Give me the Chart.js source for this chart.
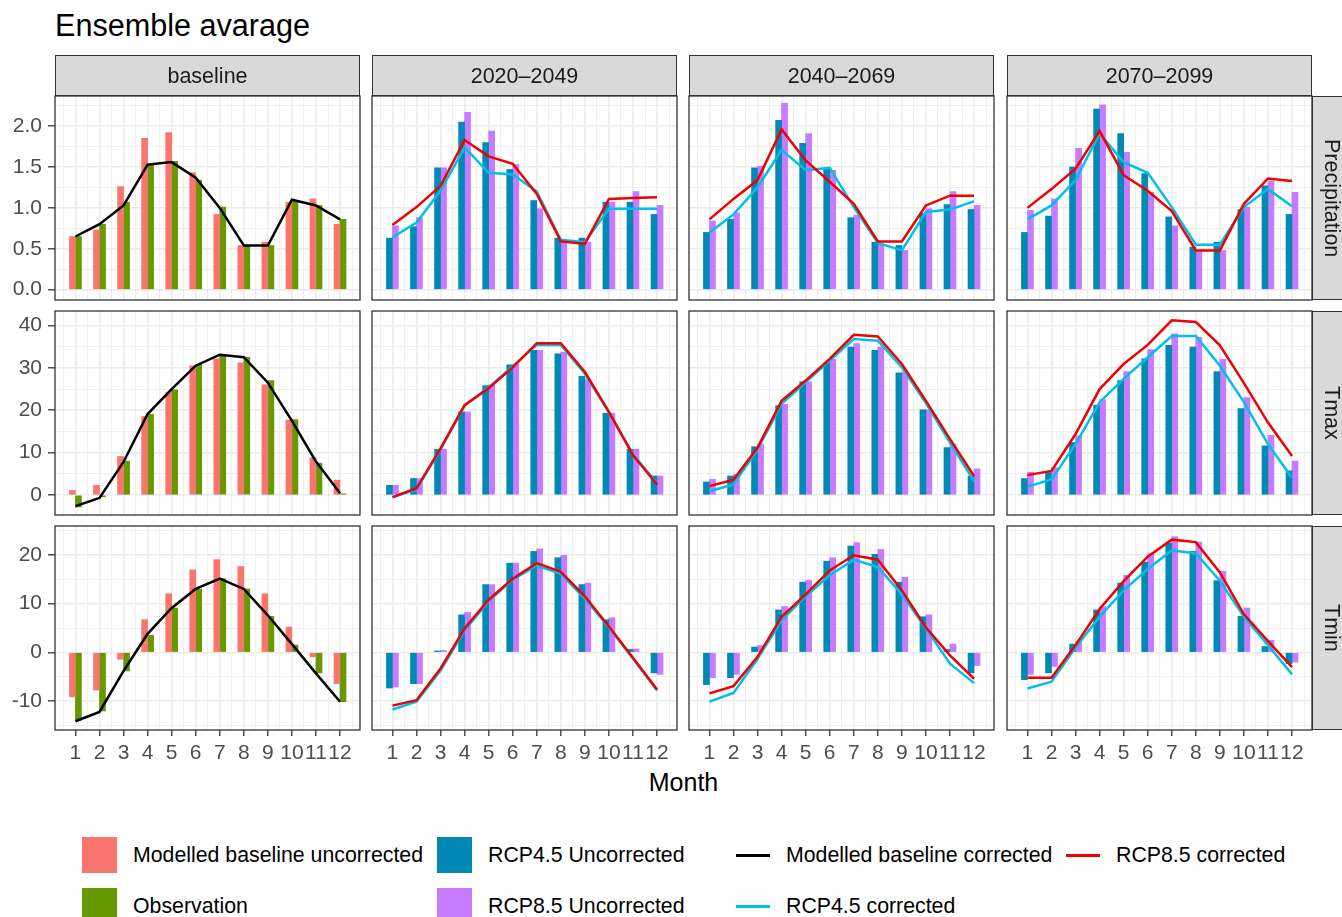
<!DOCTYPE html>
<html>
<head>
<meta charset="utf-8">
<script src="https://cdn.jsdelivr.net/npm/chart.js@4/dist/chart.umd.min.js"></script>
<style>
  html, body { margin: 0; padding: 0; background: #fff; }
  body { width: 1342px; height: 917px; overflow: hidden; position: relative;
         font-family: "Liberation Sans", Arial, sans-serif; }
  canvas { position: absolute; }
  .txt { position: absolute; white-space: nowrap; }
  .strip { position: absolute; background: #d9d9d9; border: 1.3px solid #333; box-sizing: border-box;
           color: #1a1a1a; font-size: 21.5px; display: flex; align-items: center; justify-content: center; }
  .strip span { position: relative; top: 1px; }
  .vstrip span { writing-mode: vertical-rl; top: 0; left: -1px; }
  .key { position: absolute; }
</style>
</head>
<body>
<div class="txt" style="left:55px;top:8px;font-size:30.6px;line-height:34px;color:#000;">Ensemble avarage</div>
<div class="txt" style="left:0;width:1367px;text-align:center;top:768px;font-size:25px;line-height:28px;color:#000;">Month</div>
<script>
// ---- categories ----
const months = [1, 2, 3, 4, 5, 6, 7, 8, 9, 10, 11, 12];
const periods = ['baseline', '2020–2049', '2040–2069', '2070–2099'];
const variables = ['Precipitation', 'Tmax', 'Tmin'];

// ---- tick labels ----
const precipTicks = [0, 0.5, 1, 1.5, 2];
const tmaxTicks = [0, 10, 20, 30, 40];
const tminTicks = [-10, 0, 10, 20];

// ---- Precipitation ----
const precipBaseUncorr = [0.65, 0.73, 1.26, 1.85, 1.92, 1.43, 0.92, 0.54, 0.58, 1.07, 1.11, 0.80];
const precipObs        = [0.65, 0.80, 1.07, 1.53, 1.57, 1.34, 1.01, 0.54, 0.54, 1.09, 1.03, 0.86];
const precipBaseCorr   = [0.65, 0.80, 1.03, 1.53, 1.56, 1.37, 1.00, 0.54, 0.54, 1.10, 1.03, 0.86];

const precip2020Rcp45Unc = [0.63, 0.77, 1.49, 2.05, 1.80, 1.47, 1.09, 0.63, 0.63, 1.07, 1.07, 0.92];
const precip2020Rcp85Unc = [0.78, 0.88, 1.49, 2.17, 1.94, 1.53, 0.99, 0.58, 0.58, 1.07, 1.20, 1.03];
const precip2020Rcp45Cor = [0.64, 0.82, 1.21, 1.74, 1.43, 1.41, 1.20, 0.61, 0.58, 0.99, 0.99, 0.99];
const precip2020Rcp85Cor = [0.79, 1.01, 1.27, 1.83, 1.63, 1.54, 1.17, 0.59, 0.56, 1.11, 1.12, 1.13];

const precip2040Rcp45Unc = [0.70, 0.86, 1.49, 2.07, 1.79, 1.49, 0.88, 0.58, 0.54, 0.93, 1.04, 0.98];
const precip2040Rcp85Unc = [0.84, 0.94, 1.51, 2.28, 1.91, 1.46, 0.91, 0.56, 0.48, 0.99, 1.20, 1.03];
const precip2040Rcp45Cor = [0.70, 0.92, 1.25, 1.71, 1.46, 1.49, 1.01, 0.57, 0.48, 0.95, 0.98, 1.08];
const precip2040Rcp85Cor = [0.86, 1.11, 1.34, 1.96, 1.58, 1.32, 1.05, 0.59, 0.59, 1.03, 1.15, 1.15];

const precip2070Rcp45Unc = [0.70, 0.90, 1.50, 2.21, 1.91, 1.42, 0.89, 0.52, 0.58, 0.98, 1.27, 0.92];
const precip2070Rcp85Unc = [0.97, 1.11, 1.73, 2.26, 1.68, 1.19, 0.78, 0.48, 0.48, 1.01, 1.33, 1.19];
const precip2070Rcp45Cor = [0.86, 1.03, 1.34, 1.91, 1.56, 1.43, 1.01, 0.55, 0.55, 1.01, 1.23, 1.02];
const precip2070Rcp85Cor = [1.00, 1.23, 1.48, 1.94, 1.40, 1.21, 0.96, 0.48, 0.48, 1.05, 1.36, 1.33];

// ---- Tmax ----
const tmaxBaseUncorr = [1.1, 2.3, 9.1, 18.5, 24.2, 30.5, 32.1, 31.2, 26.0, 17.7, 8.8, 3.5];
const tmaxObs        = [-2.8, -0.4, 8.0, 19.0, 24.8, 30.8, 33.1, 32.5, 27.0, 17.8, 7.5, 0.3];
const tmaxBaseCorr   = [-2.6, -0.7, 7.8, 19.1, 25.0, 30.5, 33.1, 32.5, 26.5, 17.5, 7.9, 0.4];

const tmax2020Rcp45Unc = [2.3, 3.9, 10.8, 19.6, 25.8, 30.7, 34.1, 33.3, 28.0, 19.3, 10.8, 4.5];
const tmax2020Rcp85Unc = [2.3, 3.9, 10.8, 19.6, 26.0, 30.8, 34.1, 33.7, 27.2, 19.3, 10.8, 4.5];
const tmax2020Rcp45Cor = [-0.5, 1.3, 10.8, 21.1, 25.4, 30.4, 35.4, 35.4, 28.6, 19.5, 9.6, 2.8];
const tmax2020Rcp85Cor = [-0.5, 1.6, 11.0, 21.2, 25.2, 30.1, 35.8, 35.8, 29.0, 19.6, 9.4, 2.5];

const tmax2040Rcp45Unc = [3.1, 4.5, 11.4, 21.1, 26.7, 31.2, 34.9, 34.1, 28.8, 20.1, 11.2, 4.5];
const tmax2040Rcp85Unc = [3.7, 4.9, 12.0, 21.4, 26.7, 32.0, 35.7, 34.9, 29.0, 20.1, 12.0, 6.2];
const tmax2040Rcp45Cor = [0.9, 2.5, 10.8, 21.5, 26.6, 31.7, 36.8, 36.4, 30.1, 21.7, 12.4, 3.3];
const tmax2040Rcp85Cor = [2.1, 3.6, 11.2, 22.2, 27.0, 32.1, 37.8, 37.4, 30.9, 22.2, 13.2, 4.5];

const tmax2070Rcp45Unc = [3.9, 5.3, 12.4, 21.2, 27.0, 32.1, 35.3, 34.9, 29.1, 20.4, 11.6, 5.7];
const tmax2070Rcp85Unc = [5.4, 6.5, 14.0, 22.5, 29.1, 34.3, 38.0, 37.2, 32.0, 23.0, 14.1, 8.0];
const tmax2070Rcp45Cor = [2.0, 3.7, 12.0, 21.9, 27.4, 32.5, 37.5, 37.5, 30.5, 21.9, 12.0, 4.1];
const tmax2070Rcp85Cor = [4.7, 5.7, 14.4, 25.0, 30.9, 35.4, 41.2, 40.8, 35.3, 26.4, 17.1, 9.2];

// ---- Tmin ----
const tminBaseUncorr = [-9.1, -7.7, -1.4, 6.7, 12.0, 16.9, 19.0, 17.6, 12.0, 5.2, -0.9, -6.4];
const tminObs        = [-13.9, -12.0, -3.8, 3.5, 9.1, 13.0, 15.1, 13.0, 7.4, 1.5, -4.2, -10.1];
const tminBaseCorr   = [-14.1, -12.2, -3.8, 3.8, 9.1, 13.0, 15.1, 13.0, 7.6, 1.7, -4.3, -10.1];

const tmin2020Rcp45Unc = [-7.3, -6.4, 0.3, 7.7, 13.9, 18.3, 20.7, 19.4, 13.9, 6.7, 0.6, -4.2];
const tmin2020Rcp85Unc = [-7.1, -6.4, 0.4, 8.2, 13.9, 18.3, 21.2, 19.9, 14.2, 7.1, 0.7, -4.5];
const tmin2020Rcp45Cor = [-11.7, -10.1, -3.7, 4.5, 10.5, 14.9, 17.8, 16.1, 11.0, 5.1, -1.3, -7.8];
const tmin2020Rcp85Cor = [-10.9, -9.8, -3.3, 4.9, 10.8, 15.1, 18.3, 16.5, 11.5, 5.3, -1.1, -7.6];

const tmin2040Rcp45Unc = [-6.6, -5.2, 1.1, 8.7, 14.4, 18.7, 21.8, 20.1, 14.4, 7.3, 0.6, -4.2];
const tmin2040Rcp85Unc = [-5.2, -4.5, 1.4, 9.4, 14.8, 19.4, 22.5, 21.1, 15.4, 7.7, 1.7, -2.7];
const tmin2040Rcp45Cor = [-10.1, -8.3, -1.3, 6.6, 11.5, 15.8, 19.0, 17.5, 11.9, 4.9, -2.3, -6.3];
const tmin2040Rcp85Cor = [-8.4, -6.9, -0.9, 7.3, 11.9, 16.8, 19.9, 19.0, 12.7, 5.1, -0.6, -5.4];

const tmin2070Rcp45Unc = [-5.6, -4.2, 1.7, 8.7, 14.2, 18.5, 22.4, 20.7, 14.7, 7.4, 1.2, -2.3];
const tmin2070Rcp85Unc = [-4.5, -2.9, 2.3, 9.4, 15.8, 20.2, 23.7, 22.6, 16.6, 9.1, 2.5, -2.0];
const tmin2070Rcp45Cor = [-7.4, -6.0, 1.0, 7.3, 12.7, 17.1, 20.9, 20.3, 14.7, 7.3, 1.5, -4.5];
const tmin2070Rcp85Cor = [-5.2, -5.2, 1.5, 8.9, 14.6, 19.6, 23.1, 22.6, 16.4, 7.8, 2.3, -3.0];

// ---- colours ----
const COL = {
  baseUncorr: '#F8766D', obs: '#669900', baseCorr: '#000000',
  rcp45Unc: '#0089B4', rcp85Unc: '#C77CFF', rcp45Cor: '#00BFE8', rcp85Cor: '#F00000'
};

// one row per variable, one column per period
const panels = [
  [
    { bars: [[precipBaseUncorr, COL.baseUncorr], [precipObs, COL.obs]], lines: [[precipBaseCorr, COL.baseCorr]] },
    { bars: [[precip2020Rcp45Unc, COL.rcp45Unc], [precip2020Rcp85Unc, COL.rcp85Unc]], lines: [[precip2020Rcp45Cor, COL.rcp45Cor], [precip2020Rcp85Cor, COL.rcp85Cor]] },
    { bars: [[precip2040Rcp45Unc, COL.rcp45Unc], [precip2040Rcp85Unc, COL.rcp85Unc]], lines: [[precip2040Rcp45Cor, COL.rcp45Cor], [precip2040Rcp85Cor, COL.rcp85Cor]] },
    { bars: [[precip2070Rcp45Unc, COL.rcp45Unc], [precip2070Rcp85Unc, COL.rcp85Unc]], lines: [[precip2070Rcp45Cor, COL.rcp45Cor], [precip2070Rcp85Cor, COL.rcp85Cor]] }
  ],
  [
    { bars: [[tmaxBaseUncorr, COL.baseUncorr], [tmaxObs, COL.obs]], lines: [[tmaxBaseCorr, COL.baseCorr]] },
    { bars: [[tmax2020Rcp45Unc, COL.rcp45Unc], [tmax2020Rcp85Unc, COL.rcp85Unc]], lines: [[tmax2020Rcp45Cor, COL.rcp45Cor], [tmax2020Rcp85Cor, COL.rcp85Cor]] },
    { bars: [[tmax2040Rcp45Unc, COL.rcp45Unc], [tmax2040Rcp85Unc, COL.rcp85Unc]], lines: [[tmax2040Rcp45Cor, COL.rcp45Cor], [tmax2040Rcp85Cor, COL.rcp85Cor]] },
    { bars: [[tmax2070Rcp45Unc, COL.rcp45Unc], [tmax2070Rcp85Unc, COL.rcp85Unc]], lines: [[tmax2070Rcp45Cor, COL.rcp45Cor], [tmax2070Rcp85Cor, COL.rcp85Cor]] }
  ],
  [
    { bars: [[tminBaseUncorr, COL.baseUncorr], [tminObs, COL.obs]], lines: [[tminBaseCorr, COL.baseCorr]] },
    { bars: [[tmin2020Rcp45Unc, COL.rcp45Unc], [tmin2020Rcp85Unc, COL.rcp85Unc]], lines: [[tmin2020Rcp45Cor, COL.rcp45Cor], [tmin2020Rcp85Cor, COL.rcp85Cor]] },
    { bars: [[tmin2040Rcp45Unc, COL.rcp45Unc], [tmin2040Rcp85Unc, COL.rcp85Unc]], lines: [[tmin2040Rcp45Cor, COL.rcp45Cor], [tmin2040Rcp85Cor, COL.rcp85Cor]] },
    { bars: [[tmin2070Rcp45Unc, COL.rcp45Unc], [tmin2070Rcp85Unc, COL.rcp85Unc]], lines: [[tmin2070Rcp45Cor, COL.rcp45Cor], [tmin2070Rcp85Cor, COL.rcp85Cor]] }
  ]
];

// free y scale per row: range, grid step, labelled ticks
const yScales = [
  { min: -0.127, max: 2.369, step: 0.25, labels: precipTicks, fmt: v => v.toFixed(1) },
  { min: -4.7, max: 43.4, step: 5, labels: tmaxTicks, fmt: v => String(v) },
  { min: -15.9, max: 25.9, step: 5, labels: tminTicks, fmt: v => String(v) }
];

// panel geometry
const panelX = [55, 372, 689, 1007];
const panelY = [96, 311, 526];
const PW = 305, PH = 204;
const STRIP = 41;
const TICK_FONT = { size: 21, family: '"Liberation Sans", Arial, sans-serif' };

const near = (a, b) => Math.abs(a - b) < 1e-6;
const GRID = '#EBEBEB', INK = '#333333', TICKTXT = '#4D4D4D';

const panelBorder = {
  id: 'panelBorder',
  afterDraw(chart) {
    const { ctx, chartArea: a } = chart;
    ctx.save();
    ctx.strokeStyle = INK;
    ctx.lineWidth = 1.3;
    ctx.strokeRect(a.left, a.top, a.right - a.left, a.bottom - a.top);
    ctx.restore();
  }
};

function gridValues(min, max, step) {
  const out = [];
  for (let v = Math.ceil(min / step) * step; v <= max + 1e-9; v += step) out.push(+v.toFixed(6));
  return out;
}

function buildPanel(r, c) {
  const spec = panels[r][c];
  const ys = yScales[r];
  const showY = c === 0, showX = r === 2;
  const left = showY ? 0 : panelX[c] - 2;
  const top = panelY[r] - 2;
  const width = panelX[c] + PW + 2 - left;
  const height = PH + 2 + (showX ? 46 : 2);

  const canvas = document.createElement('canvas');
  canvas.width = width; canvas.height = height;
  canvas.style.left = left + 'px'; canvas.style.top = top + 'px';
  canvas.style.width = width + 'px'; canvas.style.height = height + 'px';
  document.body.appendChild(canvas);

  const datasets = [];
  spec.bars.forEach(([vals, col]) => datasets.push({
    type: 'bar', data: months.map((m, i) => ({ x: m, y: vals[i] })),
    backgroundColor: col, borderWidth: 0, barThickness: 6, order: 5
  }));
  spec.lines.forEach(([vals, col], k) => datasets.push({
    type: 'line', data: months.map((m, i) => ({ x: m, y: vals[i] })),
    borderColor: col, borderWidth: 2.5, pointRadius: 0, tension: 0, fill: false,
    order: 3 - k
  }));

  const xGrid = gridValues(0.5, 12.5, 0.5);
  const yGrid = gridValues(ys.min, ys.max, ys.step);
  const isXMajor = v => near(v, Math.round(v));
  const isYLabel = v => ys.labels.some(l => near(l, v));

  new Chart(canvas, {
    type: 'bar',
    data: { datasets },
    options: {
      responsive: false, animation: false, devicePixelRatio: 1,
      layout: { padding: { left: showY ? 0 : 2, right: 2, top: 2, bottom: showX ? 0 : 2 } },
      plugins: { legend: { display: false }, tooltip: { enabled: false } },
      scales: {
        x: {
          type: 'linear', min: 0.15, max: 12.83, offset: false,
          afterBuildTicks: ax => { ax.ticks = xGrid.map(v => ({ value: v })); },
          afterFit: ax => { ax.height = showX ? 46 : 0; ax.paddingLeft = 0; ax.paddingRight = 0; },
          border: { display: false },
          grid: {
            offset: false, drawTicks: showX, tickLength: 6,
            color: GRID,
            lineWidth: ctx => (ctx.tick && isXMajor(ctx.tick.value)) ? 1.6 : 0.8,
            tickColor: ctx => (ctx.tick && isXMajor(ctx.tick.value)) ? INK : 'rgba(0,0,0,0)',
            tickWidth: 1.3
          },
          ticks: {
            display: showX, autoSkip: false, maxRotation: 0, minRotation: 0, padding: 5,
            color: TICKTXT, font: TICK_FONT,
            callback: v => isXMajor(v) ? String(Math.round(v)) : ''
          }
        },
        y: {
          type: 'linear', min: ys.min, max: ys.max,
          afterBuildTicks: ax => { ax.ticks = yGrid.map(v => ({ value: v })); },
          afterFit: ax => { ax.width = showY ? 55 : 0; ax.paddingTop = 0; ax.paddingBottom = 0; },
          border: { display: false },
          grid: {
            drawTicks: showY, tickLength: 7,
            color: GRID,
            lineWidth: ctx => (ctx.tick && isYLabel(ctx.tick.value)) ? 1.6 : 0.8,
            tickColor: ctx => (ctx.tick && isYLabel(ctx.tick.value)) ? INK : 'rgba(0,0,0,0)',
            tickWidth: 1.3
          },
          ticks: {
            display: showY, autoSkip: false, padding: 6,
            color: TICKTXT, font: TICK_FONT,
            callback: v => isYLabel(v) ? ys.fmt(v) : ''
          }
        }
      }
    },
    plugins: [panelBorder]
  });
}

for (let r = 0; r < 3; r++) for (let c = 0; c < 4; c++) buildPanel(r, c);

// facet strips
function addStrip(x, y, w, h, text, vertical) {
  const d = document.createElement('div');
  d.className = 'strip' + (vertical ? ' vstrip' : '');
  Object.assign(d.style, { left: x + 'px', top: y + 'px', width: w + 'px', height: h + 'px' });
  const s = document.createElement('span');
  s.textContent = text;
  d.appendChild(s);
  document.body.appendChild(d);
}
periods.forEach((p, c) => addStrip(panelX[c], panelY[0] - STRIP, PW, STRIP, p, false));
variables.forEach((v, r) => addStrip(panelX[3] + PW, panelY[r], STRIP, PH, v, true));

// legend
const legendItems = [
  { label: 'Modelled baseline uncorrected', color: COL.baseUncorr, kind: 'fill', x: 82, row: 0 },
  { label: 'Observation', color: COL.obs, kind: 'fill', x: 82, row: 1 },
  { label: 'RCP4.5 Uncorrected', color: COL.rcp45Unc, kind: 'fill', x: 437, row: 0 },
  { label: 'RCP8.5 Uncorrected', color: COL.rcp85Unc, kind: 'fill', x: 437, row: 1 },
  { label: 'Modelled baseline corrected', color: COL.baseCorr, kind: 'line', x: 736, row: 0 },
  { label: 'RCP4.5 corrected', color: COL.rcp45Cor, kind: 'line', x: 736, row: 1 },
  { label: 'RCP8.5 corrected', color: COL.rcp85Cor, kind: 'line', x: 1066, row: 0 }
];
const rowMid = [855, 906];
legendItems.forEach(it => {
  const k = document.createElement('div');
  k.className = 'key';
  const cy = rowMid[it.row];
  if (it.kind === 'fill') {
    Object.assign(k.style, { left: it.x + 'px', top: (cy - 18) + 'px', width: '35px', height: '36px', background: it.color });
  } else {
    Object.assign(k.style, { left: it.x + 'px', top: (cy - 1.5) + 'px', width: '34px', height: '3px', background: it.color });
  }
  document.body.appendChild(k);
  const t = document.createElement('div');
  t.className = 'txt';
  t.textContent = it.label;
  Object.assign(t.style, { left: (it.x + (it.kind === 'fill' ? 51 : 50)) + 'px', top: (cy - 12) + 'px',
    fontSize: '21.3px', lineHeight: '24px', color: '#000' });
  document.body.appendChild(t);
});
</script>
</body>
</html>
